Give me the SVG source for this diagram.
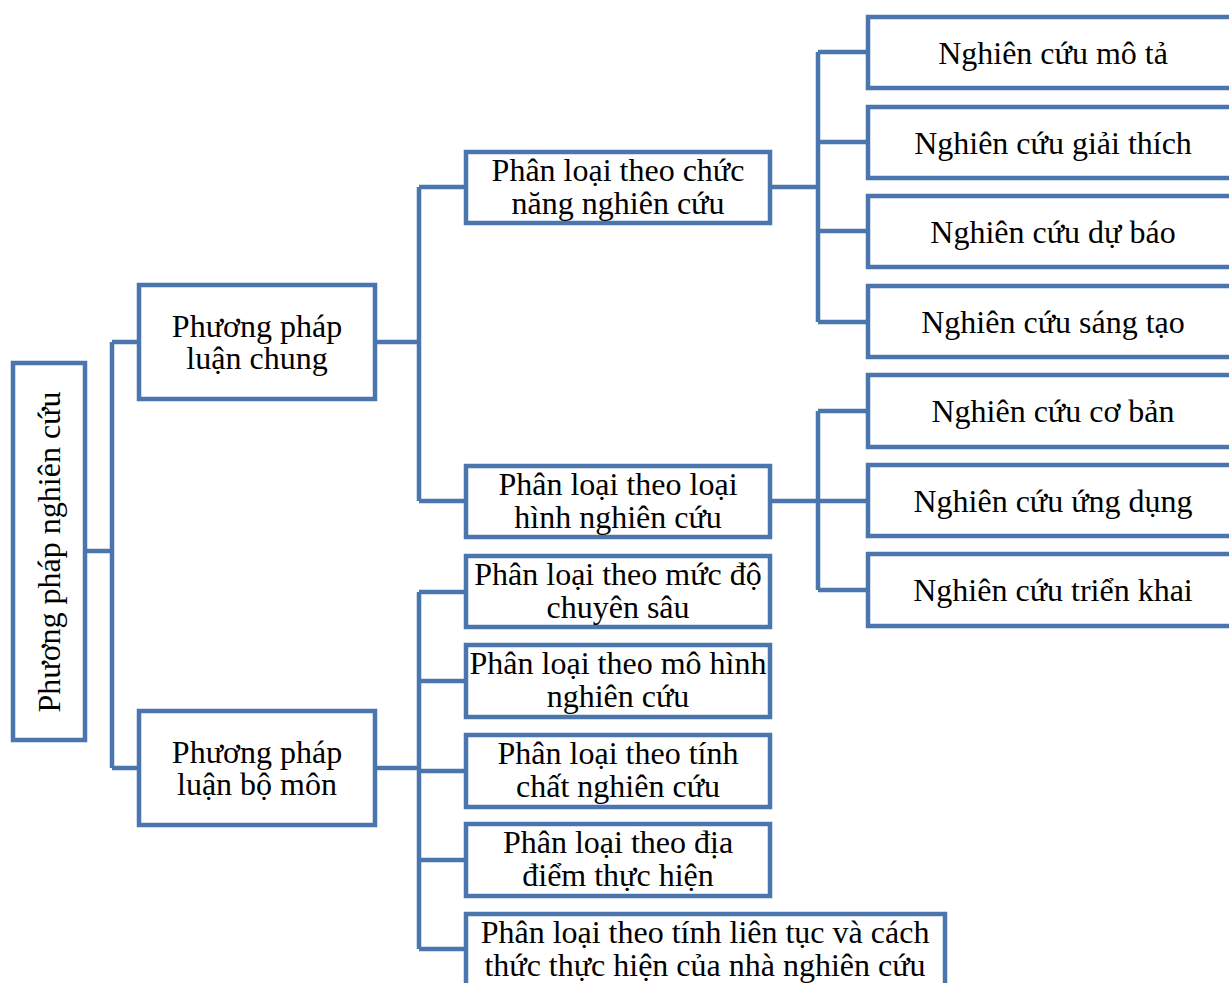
<svg xmlns="http://www.w3.org/2000/svg" width="1229" height="983" viewBox="0 0 1229 983">
<style>
.box{fill:#fff;stroke:#4A76AD;stroke-width:4.5}
.ln{fill:none;stroke:#4A76AD;stroke-width:4.5;stroke-linejoin:miter}
text{font-family:"Liberation Serif","Times New Roman",serif;font-size:32px;fill:#000;text-anchor:middle}
</style>
<rect width="1229" height="983" fill="#fff"/>
<g id="connectors">
<path class="ln" d="M85 551H112M112 342V768M112 342H139M112 768H139"/>
<path class="ln" d="M375 342H419M419 187V501M419 187H466M419 501H466"/>
<path class="ln" d="M770 187H818M818 52V322M818 52H868M818 142H868M818 231H868M818 322H868"/>
<path class="ln" d="M770 501H818M818 411V590M818 411H868M818 501H868M818 590H868"/>
<path class="ln" d="M375 768H419M419 592V949M419 592H466M419 681H466M419 771H466M419 860H466M419 949H466"/>
</g>
<g id="root"><rect class="box" x="13" y="363" width="72" height="377"/><text transform="translate(60 552) rotate(-90)">Phương pháp nghiên cứu</text></g>
<g id="chung"><rect class="box" x="139" y="285" width="236" height="114"/><text x="257" y="337">Phương pháp</text><text x="257" y="369">luận chung</text></g>
<g id="bomon"><rect class="box" x="139" y="711" width="236" height="114"/><text x="257" y="763">Phương pháp</text><text x="257" y="795">luận bộ môn</text></g>
<g id="chucnang"><rect class="box" x="466" y="152" width="304" height="71"/><text x="618" y="181">Phân loại theo chức</text><text x="618" y="214">năng nghiên cứu</text></g>
<g id="loaihinh"><rect class="box" x="466" y="466" width="304" height="71"/><text x="618" y="495">Phân loại theo loại</text><text x="618" y="528">hình nghiên cứu</text></g>
<g id="mucdo"><rect class="box" x="466" y="556" width="304" height="71"/><text x="618" y="585">Phân loại theo mức độ</text><text x="618" y="618">chuyên sâu</text></g>
<g id="mohinh"><rect class="box" x="466" y="645" width="304" height="72"/><text x="618" y="674">Phân loại theo mô hình</text><text x="618" y="707">nghiên cứu</text></g>
<g id="tinhchat"><rect class="box" x="466" y="735" width="304" height="72"/><text x="618" y="764">Phân loại theo tính</text><text x="618" y="797">chất nghiên cứu</text></g>
<g id="diadiem"><rect class="box" x="466" y="824" width="304" height="72"/><text x="618" y="853">Phân loại theo địa</text><text x="618" y="886">điểm thực hiện</text></g>
<g id="lientuc"><rect class="box" x="466" y="914" width="479" height="90"/><text x="705" y="943">Phân loại theo tính liên tục và cách</text><text x="705" y="976">thức thực hiện của nhà nghiên cứu</text></g>
<g id="mota"><rect class="box" x="868" y="17" width="372" height="71"/><text x="1053" y="64">Nghiên cứu mô tả</text></g>
<g id="giaithich"><rect class="box" x="868" y="107" width="372" height="71"/><text x="1053" y="154">Nghiên cứu giải thích</text></g>
<g id="dubao"><rect class="box" x="868" y="196" width="372" height="71"/><text x="1053" y="243">Nghiên cứu dự báo</text></g>
<g id="sangtao"><rect class="box" x="868" y="286" width="372" height="71"/><text x="1053" y="333">Nghiên cứu sáng tạo</text></g>
<g id="coban"><rect class="box" x="868" y="375" width="372" height="72"/><text x="1053" y="422">Nghiên cứu cơ bản</text></g>
<g id="ungdung"><rect class="box" x="868" y="465" width="372" height="71"/><text x="1053" y="512">Nghiên cứu ứng dụng</text></g>
<g id="trienkhai"><rect class="box" x="868" y="554" width="372" height="72"/><text x="1053" y="601">Nghiên cứu triển khai</text></g>
</svg>
